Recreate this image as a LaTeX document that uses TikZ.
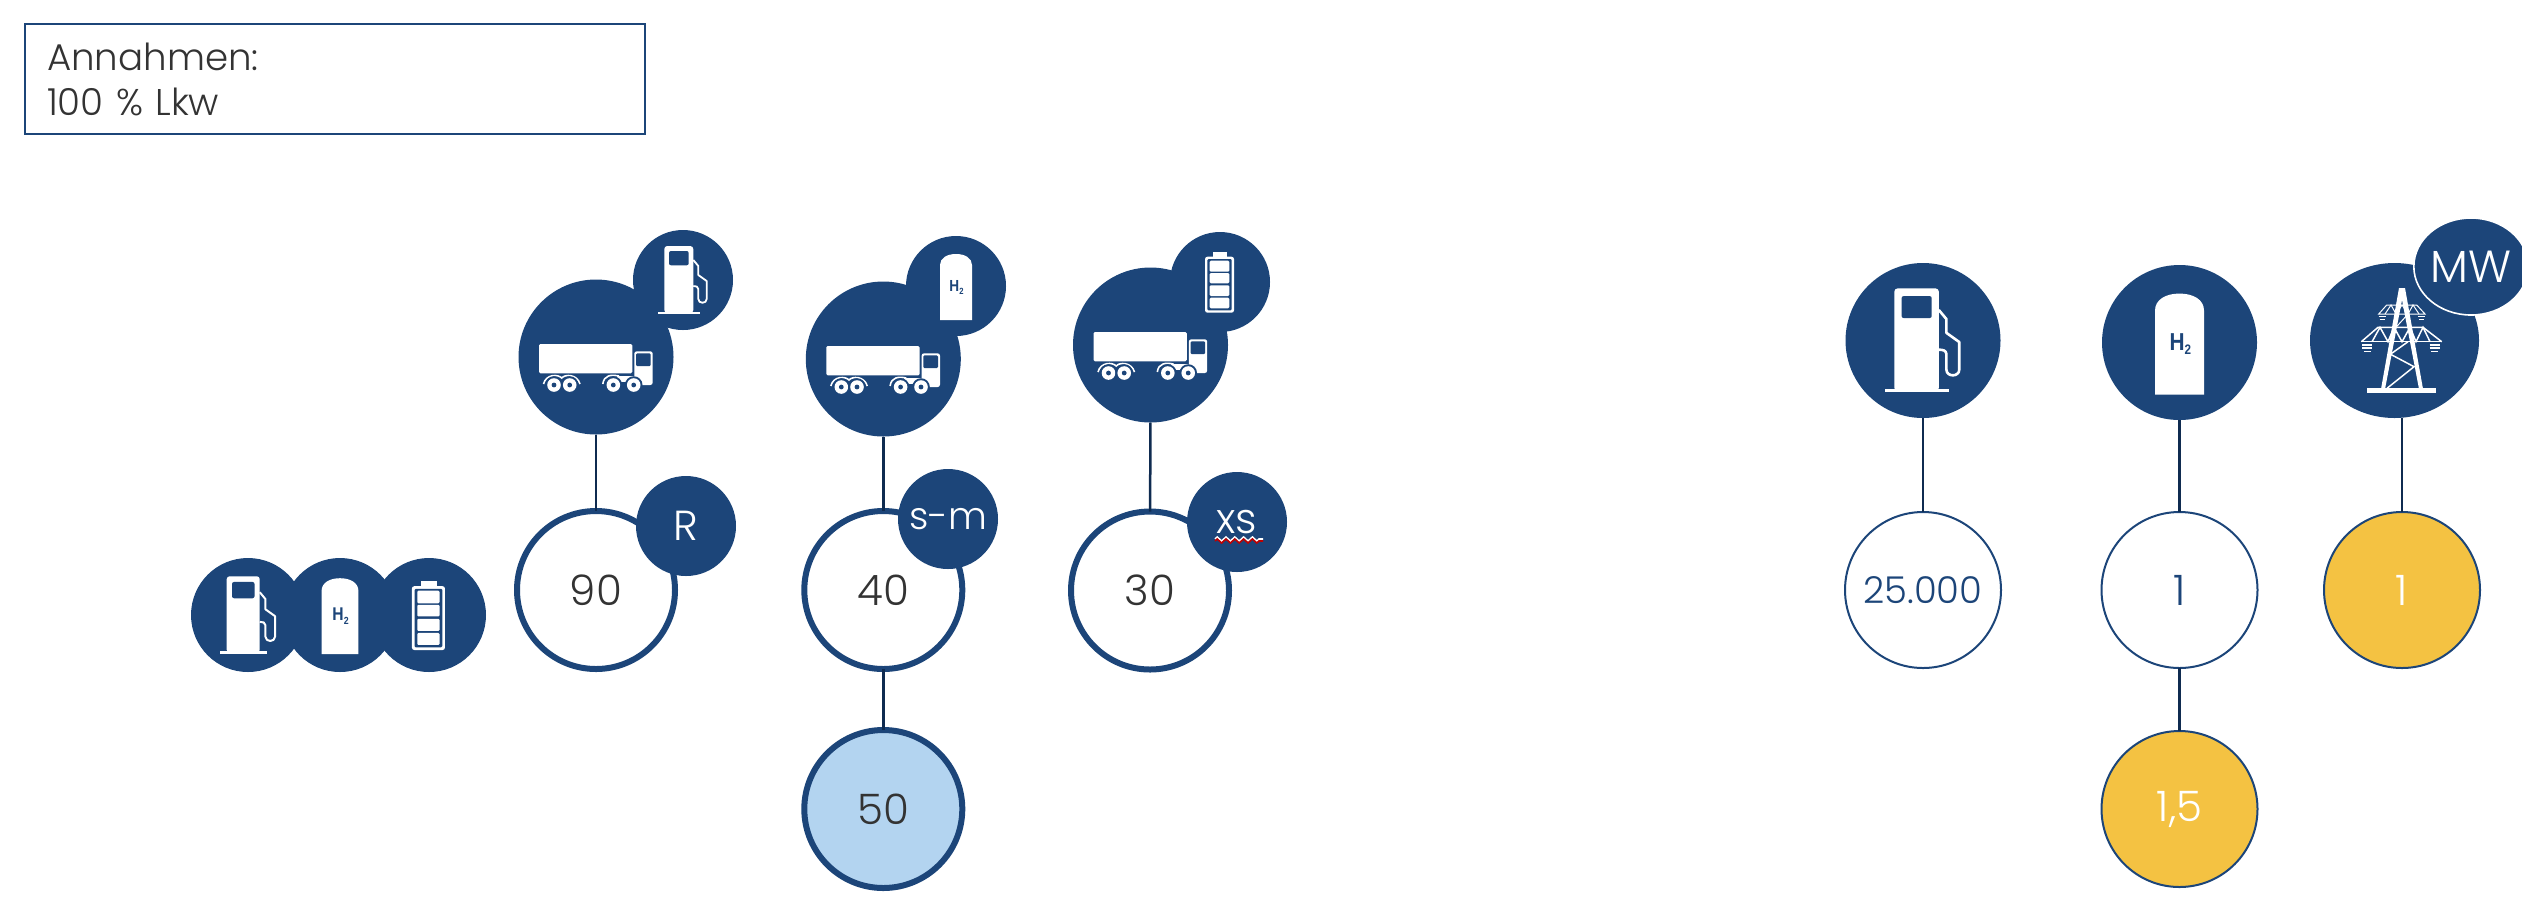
\documentclass[tikz,border=0pt]{standalone}
\usepackage{fontspec}
\setmainfont{Poppins Light}
\newfontfamily\iconfont{Liberation Sans}
\usetikzlibrary{shapes.geometric,decorations.pathmorphing}
\definecolor{mainblue}{HTML}{1C4579}
\definecolor{navy}{HTML}{0F2B50}
\definecolor{inktext}{HTML}{333333}
\definecolor{sunny}{HTML}{F4C242}
\definecolor{paleblue}{HTML}{B3D4F0}
\newcommand{\numfont}{\fontsize{21}{25}\selectfont}
\newcommand{\midfont}{\fontsize{18.5}{22}\selectfont}
\tikzset{
  x=.5pt,y=-.5pt,
  iconlw/.initial=.9pt,
  iconcirc/.style={circle,fill=mainblue,inner sep=0pt,outer sep=0pt,minimum size=#1},
  ringcirc/.style={circle,draw=mainblue,line width=3pt,fill=white,inner sep=0pt,outer sep=0pt,minimum size=79pt,text=inktext,font=\numfont},
  thincirc/.style={circle,draw=mainblue,line width=1pt,fill=white,inner sep=0pt,outer sep=0pt,minimum size=78pt,text=mainblue,font=\numfont},
  goldcirc/.style={thincirc,fill=sunny,text=white},
  tagcirc/.style={iconcirc=50pt,text=white,font=\numfont},
  linkline/.style={draw=navy,line width=1.25pt},
  lorry/.pic={
    \fill[white,rounded corners=.7pt] (-57,-13) rectangle (36.3,16.3);
    \fill[white,rounded corners=1.2pt] (38.3,-5.7) rectangle (56.7,28);
    \fill[mainblue,rounded corners=.6pt] (40,-3.7) rectangle (54.7,9);
    \fill[white] (20.5,19) rectangle (40,24.7);
    \draw[white,line width=.8pt] (-52.5,27) .. controls (-50,17) and (-38,17) .. (-34.3,21) .. controls (-31,17) and (-19,17) .. (-16,27);
    \draw[white,line width=.8pt] (6.8,27) .. controls (8,18) and (15,17.5) .. (23,19);
    \foreach \wx in {-42,-26.3,17.3,37.7}{
      \fill[mainblue] (\wx,28) circle[radius=4.4pt];
      \fill[white] (\wx,28) circle[radius=3.4pt];
      \fill[mainblue] (\wx,28) circle[radius=1.2pt];
    }
  },
  pump/.pic={
    \fill[white,rounded corners=1.5pt] (-18.7,-34) -- (10.3,-34) -- (10.3,33) -- (-18.7,33) -- cycle;
    \fill[white] (-25,31.8) rectangle (16.7,33.8);
    \fill[mainblue,rounded corners=1pt] (-14,-29) rectangle (5.7,-14.7);
    \draw[white,line width=\pgfkeysvalueof{/tikz/iconlw},line join=round] (10.3,-20) -- (15.3,-14) -- (15.3,-5) -- (23.7,1) -- (23.7,19) .. controls (23.7,24) and (15.3,24) .. (15.3,19) -- (15.3,9) .. controls (15.3,6.5) and (13,6) .. (10.3,6);
  },
  tank/.pic={
    \fill[white] (-16,34) -- (-16,-21) .. controls (-16,-28) and (-9,-32) .. (0,-32) .. controls (9,-32) and (16,-28) .. (16,-21) -- (16,34) -- cycle;
    \node[transform shape,xscale=.85,text=mainblue,inner sep=0pt,font=\iconfont\bfseries\fontsize{8}{9}\selectfont] (t) at (0.5,1) {H\raisebox{-1.5pt}{\fontsize{4.5}{5}\selectfont 2}};
  },
  battery/.pic={
    \fill[white] (-6.7,-29.7) rectangle (6.7,-24);
    \fill[white,rounded corners=1.2pt] (-15,-25.3) rectangle (14,30.7);
    \fill[mainblue,rounded corners=.6pt] (-12.7,-23) rectangle (11.7,28.3);
    \fill[white,rounded corners=.6pt] (-10.3,-21.3) rectangle (9.3,-10.3);
    \fill[white,rounded corners=.6pt] (-10.3,-9) rectangle (9.3,1.3);
    \fill[white,rounded corners=.6pt] (-10.3,3.3) rectangle (9.3,14);
    \fill[white,rounded corners=.6pt] (-10.3,15.7) rectangle (9.3,26.3);
  },
  pylon/.pic={
    \fill[white] (-3,-52) -- (3,-52) -- (21,49) -- (17,49) -- (0,-40) -- (-17,49) -- (-21,49) -- cycle;
    \fill[white] (-35,48) rectangle (34,52.7);
    \begin{scope}[white,line width=.75pt]
      \draw (-12,14) -- (12,26.7) -- (-15,48.3);
      \draw (-11.3,14) -- (6,1.7);
      \draw (-40.7,1.7) -- (39.7,1.7);
      \draw (-40.7,1.7) -- (-24,-12.7) -- (21,-12.7) -- (39.7,1.7);
      \draw (-30,1.7) -- (-22,-12.7) -- (-14,1.7) -- (-8,-12.7) -- (0,1.7) -- (8,-12.7) -- (14,1.7) -- (21,-12.7) -- (28,1.7);
      \draw[line width=.5pt] (-23.3,-26) -- (23,-26) -- (14.7,-35) -- (-15.3,-35) -- cycle;
      \draw[line width=.5pt] (-17,-26) -- (-11,-35) -- (-6,-26) -- (0,-35) -- (6,-26) -- (11,-35) -- (17,-26);
      \draw[line width=.5pt] (-6,-12.7) -- (6,-26);
      \foreach \ix in {-34.7,32.7}{
        \draw[line width=.6pt] (\ix-5,5) -- (\ix+5,5) (\ix-5,8) -- (\ix+5,8) (\ix-3.5,11.5) -- (\ix+3.5,11.5);
      }
      \foreach \ix in {-20,19.3}{
        \draw[line width=.5pt] (\ix-3.5,-23.5) -- (\ix+3.5,-23.5) (\ix-2.5,-20.8) -- (\ix+2.5,-20.8);
      }
    \end{scope}
  },
}
\begin{document}
\begin{tikzpicture}
\useasboundingbox (0,0) rectangle (2522,902);
% assumption box
\node[draw=mainblue,line width=1pt,inner xsep=11pt,inner ysep=0pt,outer sep=0pt,minimum height=55pt,text width=288pt,align=left,text=inktext,font=\fontsize{18.6}{22.5}\selectfont] (box) at (335,79) {Annahmen:\\100~\% Lkw};

% left row
\node[iconcirc=57pt] (lp) at (248,615) {};
\node[iconcirc=57pt] (lh) at (340,615) {};
\node[iconcirc=57pt] (lb) at (429,615) {};
\pic[scale=1.14,iconlw=1pt] (lpi) at (lp) {pump};
\pic[scale=1.15] (lhi) at (lh) {tank};
\pic[scale=1.14] (lbi) at (lb) {battery};

% vehicle heads
\node[iconcirc=77.5pt] (t1) at (596,357) {};
\node[iconcirc=77.5pt] (t2) at (883.3,359) {};
\node[iconcirc=77.5pt] (t3) at (1150.5,345) {};
\node[iconcirc=50pt] (s1) at (683,280) {};
\node[iconcirc=50pt] (s2) at (956,286) {};
\node[iconcirc=50pt] (s3) at (1220,282) {};
\pic (t1i) at (t1) {lorry};
\pic (t2i) at (t2) {lorry};
\pic (t3i) at (t3) {lorry};
\pic (s1i) at (s1) {pump};
\pic (s2i) at (s2) {tank};
\pic (s3i) at (s3) {battery};

% vehicle values
\node[ringcirc] (n90) at (596,590) {90};
\node[ringcirc] (n40) at (883.3,590) {40};
\node[ringcirc] (n30) at (1150,590.5) {30};
\node[ringcirc,fill=paleblue] (n50) at (883.3,809) {50};
\node[tagcirc] (tagr) at (686,526) {R};
\node[tagcirc,font=\fontsize{19}{22}\selectfont] (tagsm) at (948,519) {\raisebox{-1.75pt}{s-m}};
\node[tagcirc] (tagxs) at (1237,522) {\raisebox{-1pt}{xs}};
\draw[white,line width=.8pt,decorate,decoration={zigzag,segment length=4.4pt,amplitude=1pt}] (1215,539) -- (1263,539);
\draw[red!75!black,line width=.8pt,decorate,decoration={zigzag,segment length=4.4pt,amplitude=1pt}] (1215,541) -- (1263,541);

% infrastructure
\node[iconcirc=77.5pt] (ip) at (1923,340.5) {};
\node[iconcirc=77.5pt] (ih) at (2179.5,342.5) {};
\node[ellipse,fill=mainblue,inner sep=0pt,outer sep=0pt,minimum width=84.5pt,minimum height=77.5pt] (it) at (2394.5,340.5) {};
\pic[scale=1.53,iconlw=1.3pt] (ipi) at (ip) {pump};
\pic[scale=1.53] (ihi) at (ih) {tank};
\coordinate (pylonc) at (2402,340);
\coordinate (pylonfoot) at (2402,418);
\pic (pyl) at (pylonc) {pylon};
\node[ellipse,fill=mainblue,draw=white,line width=.8pt,inner sep=0pt,outer sep=0pt,minimum width=48pt,minimum height=48.5pt,text=white,font=\fontsize{22.5}{26}\selectfont] (mw) at (2471,266.5) {MW};

\node[thincirc,font=\midfont] (n25) at (1923,590) {25.000};
\node[thincirc] (n1h) at (2179.5,590) {1};
\node[goldcirc] (n1s) at (2402,590) {1};
\node[goldcirc] (n15) at (2179.5,809) {1,5};

% connectors
\draw[linkline] (t1) -- (n90);
\draw[linkline] (t2) -- (n40);
\draw[linkline] (t3) -- (n30);
\draw[linkline] (n40) -- (n50);
\draw[linkline] (ip) -- (n25);
\draw[linkline] (ih) -- (n1h);
\draw[linkline] (pylonfoot) -- (n1s);
\draw[linkline] (n1h) -- (n15);
\end{tikzpicture}
\end{document}
